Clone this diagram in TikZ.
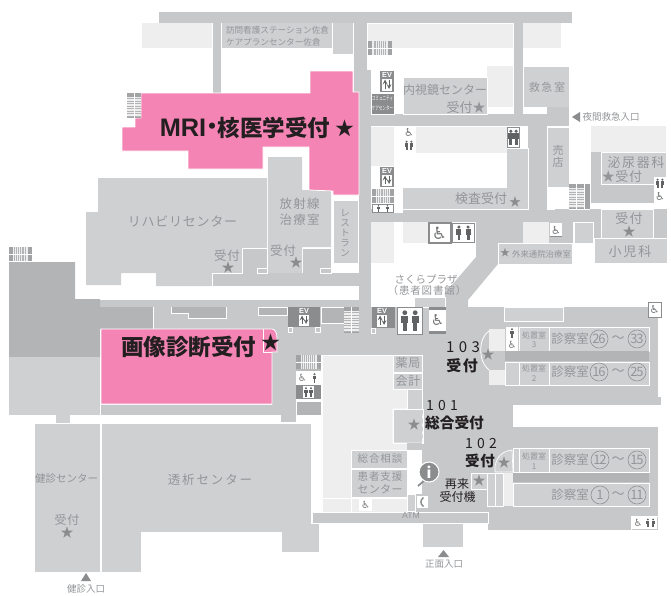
\documentclass[tikz,border=0pt]{standalone}
\usepackage{fontspec}
\usepackage{graphicx}
\newfontfamily\jp{Noto Sans CJK JP}
\newfontfamily\lat{Liberation Sans}
\definecolor{corr}{HTML}{C7C8CA}
\definecolor{rm}{HTML}{CFD0D2}
\definecolor{pale}{HTML}{EEEEEF}
\definecolor{drk}{HTML}{B3B4B6}
\definecolor{icon}{HTML}{8A8C8E}
\definecolor{pinkroom}{HTML}{F384B4}
\definecolor{tx}{HTML}{939598}
\definecolor{ink}{HTML}{231F20}
\tikzset{
 room/.style={fill=rm,draw=white,line width=0.6pt},
 corridor/.style={fill=corr},
 paleroom/.style={fill=pale},
 darkroom/.style={fill=drk},
 pinkblock/.style={fill=pinkroom,draw=white,line width=0.6pt},
 lbl/.style={inner sep=0pt,outer sep=0pt,text=tx}
}
\newcommand\fs[1]{\fontsize{\the\dimexpr#1pt*3/4\relax}{\the\dimexpr#1pt*9/8\relax}\jp\selectfont}
% \lab[letterspace]{x}{y}{px size}{text}
\newcommand\lab[5][0]{\node[lbl] at (#2,#3) {\fs{#4}\addfontfeature{LetterSpace=#1}#5};}
\newcommand\blab[5][0]{\node[lbl,text=ink] at (#2,#3) {\fs{#4}\addfontfeature{LetterSpace=#1}#5};}
\newcommand\bblab[5][0]{\node[lbl,text=ink] at (#2,#3) {\fs{#4}\bfseries\addfontfeature{LetterSpace=#1}#5};}
\newcommand\sstar[3]{\node[lbl,text=icon] at (#1,#2) {\fs{#3}★};}
\newcommand\cnumb[4]{\node[circle,draw=tx,line width=0.5pt,minimum size=13.5pt,inner sep=0pt,text=tx] at (#1,#2) {\fs{#3}\addfontfeature{LetterSpace=-10}#4};}
% stairs with treads across a vertical flight
\newcommand\stairsH[4]{%
 \fill[icon!80] (#1,#2) rectangle (#3,#4);
 \fill[pale] (#1,{#2+(#4-#2)*0.16}) rectangle (#3,{#4-(#4-#2)*0.04});
 \foreach \k in {0.22,0.32,...,0.95}{\draw[drk,line width=0.35pt] (#1,{#2+(#4-#2)*\k}) -- (#3,{#2+(#4-#2)*\k});}
 \draw[white,line width=0.7pt] ({(#1+#3)/2},#2) -- ({(#1+#3)/2},#4);}
% stairs with treads across a horizontal flight
\newcommand\stairsV[4]{%
 \fill[icon!80] (#1,#2) rectangle (#3,#4);
 \fill[pale] ({#1+(#3-#1)*0.18},#2) rectangle ({#3-(#3-#1)*0.18},#4);
 \foreach \k in {0.24,0.32,...,0.8}{\draw[drk,line width=0.35pt] ({#1+(#3-#1)*\k},#2) -- ({#1+(#3-#1)*\k},#4);}
 \draw[white,line width=0.7pt] (#1,{(#2+#4)/2}) -- (#3,{(#2+#4)/2});}
% lift icon: #1..#4 box, #5 centre x of the white part, #6 half width
\newcommand\ev[6]{%
 \fill[icon] (#1,#2) rectangle (#3,#4);
 \node[lbl,text=white] at (#5,{#2+3.6}) {\fontsize{5.5pt}{6pt}\lat\bfseries EV};
 \fill[white] ({#5-#6},{#2+7.5}) rectangle ({#5+#6},{#4-1.5});
 \draw[icon!70!black,line width=0.6pt,->,>=stealth] ({#5-2},{#4-3}) -- ({#5-2},{#2+8.5});
 \draw[icon!70!black,line width=0.6pt,->,>=stealth] ({#5+2},{#2+8.5}) -- ({#5+2},{#4-3});}
% one figure
\newcommand\fig[3]{%
 \fill[icon!70!black] ({#1},{#2-0.38*#3}) circle ({0.11*#3});
 \fill[icon!70!black] ({#1-0.16*#3},{#2-0.25*#3}) rectangle ({#1+0.16*#3},{#2+0.1*#3});
 \fill[icon!70!black] ({#1-0.09*#3},{#2+0.1*#3}) rectangle ({#1+0.09*#3},{#2+0.46*#3});}
% wc icon box
\newcommand\wc[5]{%
 \fill[#5] (#1,#2) rectangle (#3,#4);
 \fill[white] ({#1+0.8},{#2+0.8}) rectangle ({#3-0.8},{#4-0.8});
 \fig{(#1+(#3-#1)*0.3)}{((#2+#4)/2)}{((#4-#2)*0.78)}
 \fig{(#1+(#3-#1)*0.7)}{((#2+#4)/2)}{((#4-#2)*0.78)}}
% wheelchair
\newcommand\wh[5]{%
 \fill[white] (#1,#2) rectangle (#3,#4);
 \node[lbl,text=icon!85!black] at ({(#1+#3)/2},{(#2+#4)/2}) {\fontsize{\the\dimexpr#5pt*3/4\relax}{#5pt}\fontspec{DejaVu Sans}♿};}
\begin{document}
\begin{tikzpicture}[x=0.75pt,y=-0.75pt]
\useasboundingbox (0,0) rectangle (671,596);
% ---- corridors
\fill[corridor] (159,12) rectangle (572,23);
\fill[corridor] (213,23) rectangle (221,93);
\fill[corridor] (354,23) rectangle (367,92);
\fill[corridor] (359,70) rectangle (371,333);
\fill[corridor] (360,114) rectangle (547,126);
\fill[corridor] (514,23) rectangle (523,114);
\fill[corridor] (528,114) rectangle (547,222);
\fill[corridor] (371,209) rectangle (601,222);
\fill[corridor] (498,222) rectangle (523,243);
\fill[corridor] (549,222) rectangle (573,264);
\fill[corridor] (593,209) rectangle (601,238);
\fill[corridor] (476,222) -- (476,257) -- (445,293) -- (445,307) -- (468,307) -- (468,300) -- (498,264) -- (498,222) -- cycle;
\fill[corridor] (359,307) rectangle (658,397);
\fill[corridor] (359,397) rectangle (661,405);
\fill[corridor] (422,355) rectangle (513,512);
\fill[corridor] (513,427) rectangle (658,530);
\fill[corridor] (488,506) rectangle (658,530);
\fill[corridor] (272,333) rectangle (422,355);
\fill[corridor] (153,307) rectangle (359,333);
\fill[corridor] (100,299) rectangle (359,307);
\fill[corridor] (272,329) rectangle (296,405);
\fill[corridor] (281,405) rectangle (296,422);
\fill[corridor] (101,405) rectangle (281,415);
\fill[corridor,draw=white,line width=0.5pt] (312,512) rectangle (488,523);
\draw[white,line width=0.5pt] (100,299) -- (359,299) (100,307) -- (153,307);
% ---- dark and left blocks
\fill[darkroom] (9,262) -- (75,262) -- (75,299) -- (100,299) -- (100,307) -- (153,307) -- (153,329) -- (100,329) -- (100,357) -- (9,357) -- cycle;
\fill[rm] (9,357) rectangle (100,415);
\fill[rm] (56,415) rectangle (70,423);
\stairsV{9}{247}{32}{261}
% ---- upper-left rooms
\fill[paleroom] (142,23) rectangle (212,48);
\fill[rm] (222,23) rectangle (332,48);
\fill[rm] (333,23) rectangle (353,54);
% ---- rehab
\fill[rm] (98,178) -- (267,178) -- (267,248) -- (242,248) -- (242,273) -- (212,273) -- (212,286) -- (156,286) -- (156,273) -- (121,273) -- (121,285) -- (86,285) -- (86,212) -- (98,212) -- cycle;
\fill[corridor] (212,273) rectangle (359,286);
\fill[corridor] (242,248) rectangle (267,273);
\fill[corridor] (303,248) rectangle (331,273);
\draw[white,line width=0.5pt] (212,286) -- (212,273) -- (242,273) -- (242,248) -- (267,248) (302,248) -- (331,248) -- (331,273);
\fill[rm] (268,157) -- (302,157) -- (302,190) -- (331,190) -- (331,247) -- (302,247) -- (302,273) -- (268,273) -- cycle;
\draw[white,line width=0.5pt] (257,273) rectangle (267,268) (320,273) rectangle (331,268);
\fill[rm,draw=white,line width=0.5pt] (333,200) rectangle (358,263);
% ---- pink MRI
\draw[pinkblock] (310,71) -- (353,71) -- (353,92) -- (359,92) -- (359,195) -- (333,195) -- (333,191) -- (309,190) -- (309,147) -- (263,147) -- (263,169) -- (188,169) -- (188,151) -- (122,151) -- (122,127) -- (135,127) -- (135,118) -- (141,118) -- (141,93) -- (310,93) -- cycle;
\stairsH{127}{93}{141}{118}
% ---- upper-right
\fill[paleroom] (367,23) rectangle (513,48);
\draw[white,line width=0.6pt] (367,23) -- (513,23) -- (513,66) (367,23) -- (367,70);
\fill[paleroom] (523,23) rectangle (561,48);
\fill[paleroom] (487,66) rectangle (513,107);
\stairsV{368}{41}{392}{55}
\fill[room] (403,77) -- (487,77) -- (487,114) -- (403,114) -- cycle;
\fill[room] (523,66) rectangle (569,107);
\fill[corridor] (547,107) rectangle (569,126);
\fill[room] (547,127) rectangle (569,187);
\fill[icon] (371,93) rectangle (394,114);
\draw[white,line width=0.5pt] (371,93) rectangle (394,114);
\ev{380}{71}{394}{92}{387}{5}
% ---- central block
\fill[paleroom] (371,126) rectangle (394,166);
\fill[paleroom] (416,126) rectangle (507,153);
\draw[white,line width=0.6pt] (371,126) -- (507,126);
\fill[rm] (507,148) rectangle (528,209);
\fill[rm] (403,188) rectangle (528,209);
\draw[white,line width=0.6pt] (403,209) -- (528,209) -- (528,148) -- (507,148);
\wh{403}{126}{415}{139}{11}
\wc{403}{139}{415}{152}{white}
\wc{507}{127}{520}{148}{icon}
\ev{380}{167}{394}{187}{387}{5}
\fill[white] (372,189) rectangle (403,213);
\stairsV{372}{189}{394}{203}
\wc{372}{204}{394}{213}{icon}
% ---- lower block
\fill[paleroom] (371,222) rectangle (394,263);
\fill[paleroom] (403,222) rectangle (428,243);
\wh{428}{223}{451}{243}{17}
\draw[icon,line width=1pt] (429,223) rectangle (451,243);
\wc{452}{223}{475}{243}{icon}
\fill[room] (414,297) rectangle (445,307);
% ---- right of the diagonal
\fill[paleroom] (523,222) rectangle (549,243);
\fill[room,draw=white,line width=0.5pt] (498,243) rectangle (572,264);
\wh{550}{223}{562}{237}{11}
\draw[icon,line width=0.6pt] (550,236.5) -- (562,236.5);
\fill[room,draw=white,line width=0.5pt] (574,222) rectangle (593,243);
\fill[paleroom] (591,126) rectangle (666,152);
\fill[corr] (591,152) rectangle (666,203);
\fill[room,draw=white,line width=0.5pt] (601,152) rectangle (666,184);
\wc{654}{177}{666}{190}{white}
\wh{654}{190}{666}{203}{11}
\fill[corr] (653,209) rectangle (667,238);
\fill[room,draw=white,line width=0.5pt] (601,209) rectangle (653,238);
\fill[room,draw=white,line width=0.5pt] (594,238) rectangle (667,263);
\stairsH{569}{184}{584}{209}
\fill[icon!80] (585,184) rectangle (590,209);
\draw[white,line width=0.6pt] (547,209) -- (547,200) (547,209) -- (555,209) (569,209) -- (590,209);
% ---- lower right rooms
\fill[rm,draw=white,line width=0.5pt] (504,307) rectangle (563,321);
\wh{648}{302}{661}{317}{11}
\draw[icon,line width=0.5pt] (648,302) rectangle (661,317);
\fill[rm,draw=white,line width=0.5pt] (549,327) rectangle (649,351);
\fill[rm,draw=white,line width=0.5pt] (519,327) rectangle (549,351);
\fill[drk] (505,351) rectangle (649,361);
\fill[rm,draw=white,line width=0.5pt] (549,362) rectangle (649,385);
\fill[rm,draw=white,line width=0.5pt] (519,362) rectangle (549,385);
\fill[rm,draw=white,line width=0.5pt] (505,362) rectangle (519,385);
\fill[paleroom] (489,329) rectangle (505,351);
\fill[paleroom] (489,370) rectangle (505,385);
\wh{506}{339}{518}{351}{10}
\fill[white] (506,327) rectangle (518,339);
\fig{512}{333}{10}
\draw[white,line width=0.6pt] (489,331) .. controls (478,338) and (478,362) .. (489,370);
% 12-15 and 1-11
\fill[rm,draw=white,line width=0.5pt] (549,448) rectangle (649,472);
\fill[rm,draw=white,line width=0.5pt] (519,448) rectangle (549,472);
\fill[rm,draw=white,line width=0.5pt] (513,448) rectangle (519,472);
\fill[rm,draw=white,line width=0.5pt] (495,472) -- (495,466) .. controls (497,456) and (503,451) .. (512,450) -- (513,472) -- cycle;
\fill[drk] (513,473) rectangle (649,482);
\fill[rm,draw=white,line width=0.5pt] (513,483) rectangle (649,506);
\fill[paleroom] (503,473) rectangle (513,506);
\fill[rm,draw=white,line width=0.5pt] (487,473) rectangle (495.5,506);
\fill[rm,draw=white,line width=0.5pt] (495.5,473) rectangle (503,506);
\fill[rm,draw=white,line width=0.5pt] (471,473) rectangle (487,489);
\wh{632}{517}{644}{529}{10}
\wc{644}{517}{657}{529}{white}
\draw[white,line width=0.5pt] (631,516) rectangle (658,530);
% ---- entrance
\fill[rm] (423,524) rectangle (463,547);
\fill[icon] (438,557) -- (449,557) -- (443.5,550) -- cycle;
% ---- pale hall
\fill[paleroom,draw=white,line width=0.5pt] (322,355) rectangle (407,512);
\fill[room,draw=white,line width=0.5pt] (393,355) rectangle (422,372);
\fill[room,draw=white,line width=0.5pt] (393,373) rectangle (422,389);
\fill[room] (407,389) rectangle (422,410);
\draw[white,line width=0.5pt] (407,389) -- (407,409);
\fill[room] (393,409) rectangle (423,443);
\draw[white,line width=0.5pt] (407,409) -- (393,409) -- (393,443) -- (423,443) .. controls (420,440) and (425,438) .. (423,435) .. controls (421,432) and (425,430) .. (423,427) .. controls (421,424) and (425,422) .. (423,419) .. controls (421,416) and (425,413) .. (423,409);
\fill[corr] (407,443.3) rectangle (422,450);
\fill[room,draw=white,line width=0.5pt] (351,450) rectangle (407,468);
\fill[room,draw=white,line width=0.5pt] (351,469) rectangle (407,497);
\draw[white,line width=0.5pt] (322,498) -- (407,498) (351,498) -- (351,512);
\wh{359}{499}{372}{511}{10}
\fill[corr] (407,494) rectangle (422,512);
\fill[rm,draw=white,line width=0.5pt] (407,494) rectangle (415,511);
\fill[white] (417,496) rectangle (428,508);
\draw[icon,line width=1.1pt] (423.5,497.5) .. controls (420,500) and (420,504) .. (423.5,506.5);
% stair/wc column
\stairsV{296}{355}{321}{369}
\fill[icon!60] (296,369) rectangle (321,371);
\wh{296.5}{371}{308}{385}{10}
\fill[white] (308.5,371) rectangle (321,385);
\fig{314.5}{378}{10}
\fill[icon] (296,385) rectangle (321,399);
\fill[white] (303,386) rectangle (314,398);
\fig{306}{392}{10}
\fig{311}{392}{10}
\fill[drk,draw=white,line width=0.5pt] (296,401) rectangle (321,415);
% ---- dark strips and lifts in the band
\fill[drk] (171,307) -- (226,307) -- (226,318) -- (188,318) -- (188,313) -- (171,313) -- cycle;
\draw[white,line width=0.5pt] (171,307) -- (171,313) -- (188,313) -- (188,318) -- (226,318) -- (226,307);
\draw[white,line width=0.5pt] (153,307) -- (153,329);
\fill[drk,draw=white,line width=0.5pt] (258,307) rectangle (287,315);
\ev{288}{307}{320}{327}{304}{5}
\draw[white,line width=0.5pt] (288,327) rectangle (292,332) (315,327) rectangle (320,332);
\fill[drk,draw=white,line width=0.5pt] (321,307) rectangle (344,323);
\stairsH{344}{307}{359}{333}
\ev{372}{307}{395}{328}{382}{5}
\draw[white,line width=0.5pt] (371,328) rectangle (375,333);
\wc{397}{307}{423}{335}{icon}
\wh{429}{307}{446}{334}{15}
\fill[icon] (429,307) rectangle (446,310);
\fill[icon] (429,331) rectangle (446,334);
% ---- pink 2
\draw[pinkblock] (101,329) -- (272,329) .. controls (275,329) and (277,333) .. (277,338) -- (277,352) -- (272,352) -- (272,404) -- (101,404) -- cycle;
\draw[white,line width=0.5pt] (263,329) -- (263,352) -- (272,352);
% ---- south
\fill[rm,draw=white,line width=0.5pt] (34,423) rectangle (100,572);
\fill[rm,draw=white,line width=0.5pt] (101,423) -- (311,423) -- (311,523) -- (319,523) -- (319,552) -- (281,552) -- (281,532) -- (141,532) -- (141,572) -- (101,572) -- cycle;
\fill[icon] (81,581) -- (91,581) -- (86,573) -- cycle;
\fill[icon] (580,112) -- (580,122) -- (572,117) -- cycle;
% ---- info
\draw[icon,line width=1.3pt] (418,486) -- (425,480);
\fill[icon,draw=white,line width=0.8pt] (429,472) circle (10);
\node[lbl,text=white] at (429,472) {\fs{15}\bfseries i};
% ---- labels
\node[lbl,anchor=west] at (226,30) {\fs{8.6}訪問看護ステーション佐倉};
\node[lbl,anchor=west] at (226,42) {\fs{8.6}ケアプランセンター佐倉};
\lab{445}{90}{12}{内視鏡センター}
\lab{466}{108}{13}{受付★}
\lab[15]{547}{87}{11}{救急室}
\lab{611}{117}{9.5}{夜間救急入口}
\lab{558}{150}{11}{売}
\lab{558}{162}{11}{店}
\lab[12]{636}{163}{13}{泌尿器科}
\lab[5]{622}{177}{13}{★受付}
\lab{481}{199}{13}{検査受付}
\sstar{515}{202}{12}
\lab[8]{629}{219}{13}{受付}
\sstar{629}{232}{13}
\lab[15]{630}{252}{13}{小児科}
\sstar{505}{253}{10}
\lab{541.5}{254}{8.4}{外来通院治療室}
\lab{426}{279}{10.5}{さくらプラザ}
\lab[8]{427}{291}{10.5}{（患者図書館）}
\blab[30]{463}{347}{15}{103}
\bblab[10]{462}{366}{15}{受付}
\sstar{488}{355}{13}
\lab{534}{335}{8}{処置室}
\lab{534}{345}{8}{3}
\lab{534}{368}{8}{処置室}
\lab{534}{379}{8}{2}
\lab{534}{456}{8}{処置室}
\lab{534}{467}{8}{1}
\lab{570}{339}{12.5}{診察室}
\cnumb{599}{339}{13}{26}
\lab{618}{339}{13}{～}
\cnumb{637}{339}{13}{33}
\lab{570}{372}{12.5}{診察室}
\cnumb{599}{372}{13}{16}
\lab{618}{372}{13}{～}
\cnumb{637}{372}{13}{25}
\lab{570}{460}{12.5}{診察室}
\cnumb{600}{460}{13}{12}
\lab{618}{460}{13}{～}
\cnumb{637}{460}{13}{15}
\lab{570}{495}{12.5}{診察室}
\cnumb{600}{495}{13}{1}
\lab{618}{495}{13}{～}
\cnumb{637}{495}{13}{11}
\lab[5]{408}{363}{12}{薬局}
\lab[5]{408}{381}{12}{会計}
\blab[30]{442}{406}{14}{101}
\bblab{454.5}{423}{14.7}{総合受付}
\sstar{414}{425}{13}
\blab[30]{481}{444}{14}{102}
\bblab[4]{480}{461}{14.5}{受付}
\sstar{504}{463}{13}
\blab[4]{457}{484}{12}{再来}
\blab{457.5}{497}{12}{受付機}
\sstar{479}{481}{13}
\lab[8]{380}{459}{10.5}{総合相談}
\lab[8]{380}{477}{10.5}{患者支援}
\lab[4]{380}{489}{11}{センター}
\node[lbl] at (411,516) {\fontsize{6.5pt}{7pt}\lat ATM};
\lab{444}{564}{9.5}{正面入口}
\lab{86}{589}{9.5}{健診入口}
\lab{66.5}{479}{10.5}{健診センター}
\lab[5]{67}{520}{12}{受付}
\sstar{67}{533}{13}
\lab[15]{210}{480}{12.5}{透析センター}
\lab[6]{182.5}{221}{13}{リハビリセンター}
\lab[5]{227}{256}{12.5}{受付}
\sstar{228}{268}{13}
\lab[10]{299.5}{204}{12.5}{放射線}
\lab[10]{299.5}{220}{12.5}{治療室}
\lab[5]{283}{251}{12.5}{受付}
\sstar{296}{263}{13}
\lab{345}{213}{9.5}{レ}
\lab{345}{223}{9.5}{ス}
\lab{345}{233}{9.5}{ト}
\lab{345}{243}{9.5}{ラ}
\lab{345}{253}{9.5}{ン}
\node[lbl,text=white] at (382.5,99) {\scalebox{0.62}[1]{\fs{5.8}コミュニティ}};
\node[lbl,text=white] at (382.5,108) {\scalebox{0.62}[1]{\fs{5.8}ケアセンター}};
\node[lbl,text=ink] at (183,128) {\fontsize{19pt}{20pt}\lat\bfseries MRI};
\node[lbl,text=ink] at (212.5,129) {\fs{22}\bfseries ・};
\bblab{274}{128}{22.5}{核医学受付}
\node[lbl,text=ink] at (345,128) {\fs{19}★};
\bblab{188.5}{347}{22.5}{画像診断受付}
\node[lbl,text=ink] at (270.5,342) {\fs{19}★};
\end{tikzpicture}
\end{document}
